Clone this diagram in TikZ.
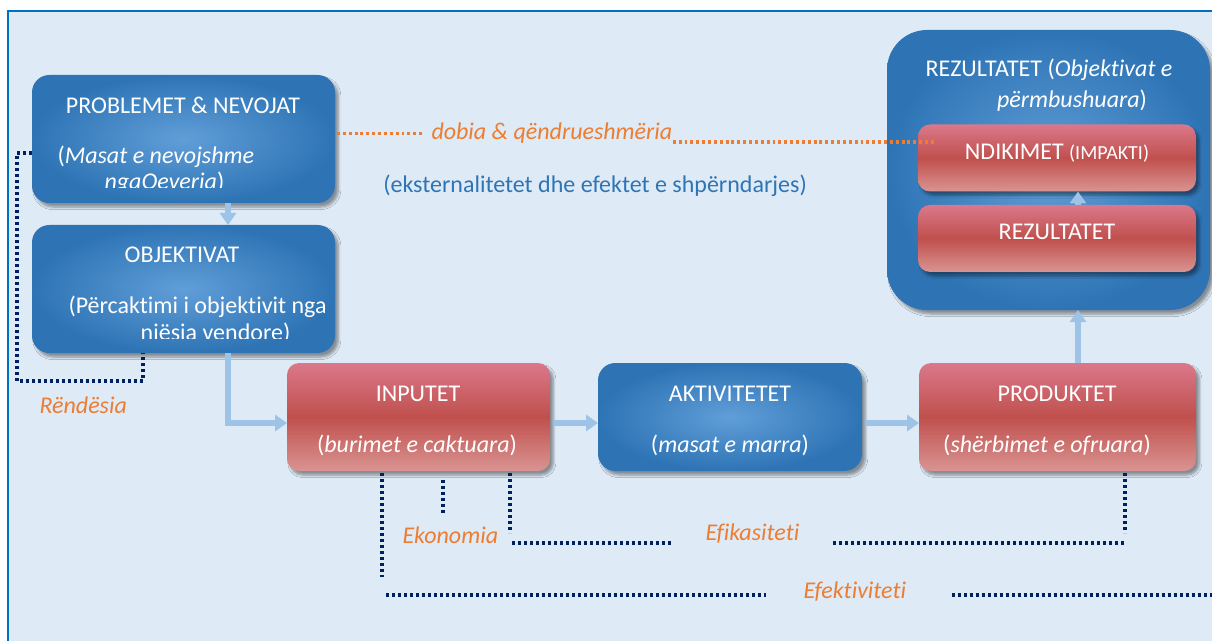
\documentclass[tikz,border=0pt]{standalone}
\usepackage{fontspec}
\setmainfont{Carlito}[Ligatures=NoCommon]
\usetikzlibrary{arrows.meta,shadows.blur}

\definecolor{bgblue}{RGB}{222,234,246}
\definecolor{frameblue}{RGB}{0,112,192}
\definecolor{boxdark}{RGB}{46,116,181}
\definecolor{boxlight}{RGB}{96,158,216}
\definecolor{redtop}{RGB}{218,120,138}
\definecolor{redmid}{RGB}{192,80,77}
\definecolor{redbot}{RGB}{217,148,146}
\definecolor{arrowblue}{RGB}{157,195,230}
\definecolor{labelorange}{RGB}{237,125,49}
\definecolor{textblue}{RGB}{46,117,182}
\definecolor{dotnavy}{RGB}{0,32,96}

\tikzset{every picture/.style={line width=0.75pt},
  boxshadow/.style={blur shadow={shadow xshift=2.5pt,shadow yshift=-3pt,shadow blur steps=6,shadow opacity=40}},
  bluebox/.style={rounded corners=13pt,inner sep=0pt,outer sep=0pt,inner color=boxlight,outer color=boxdark,boxshadow},
  redbox/.style={rounded corners=9pt,inner sep=0pt,outer sep=0pt,top color=redtop,bottom color=redbot,middle color=redmid,boxshadow},
  boxtext/.style={text=white,inner sep=0pt,font=\fontsize{18}{21}\selectfont},
  orangelabel/.style={text=labelorange,inner sep=0pt,font=\fontsize{18}{21}\selectfont\itshape},
  flowarrow/.style={draw=arrowblue,line width=4.5pt,-{Triangle[length=9pt,width=12pt]}},
  navydots/.style={draw=dotnavy,line width=2.4pt,dash pattern=on 2.2pt off 2.3pt},
  orangedots/.style={draw=labelorange,line width=2.4pt,dash pattern=on 2.2pt off 2.2pt}
}

\begin{document}
\begin{tikzpicture}[x=0.75pt,y=0.75pt,yscale=-1,xscale=1]
\useasboundingbox (0,0) rectangle (1212,641);

% Background and frame
\fill[bgblue] (8,11) rectangle (1212,641);
\draw[frameblue,line width=1.5pt] (8,641) -- (8,11) -- (1212,11);

% Boxes
\node[bluebox,minimum width=227.25pt,minimum height=96pt] (prob) at (183.5,139) {};
\node[bluebox,minimum width=227.25pt,minimum height=96pt] (obj) at (183.5,289) {};
\node[redbox,minimum width=197.25pt,minimum height=81pt] (inp) at (418.5,417) {};
\node[bluebox,minimum width=198pt,minimum height=81pt] (akt) at (730,417) {};
\node[redbox,minimum width=207.75pt,minimum height=81pt] (prod) at (1057.5,417) {};
\node[bluebox,rounded corners=30pt,minimum width=242.25pt,minimum height=210pt] (rez) at (1048.5,170) {};
\node[redbox,minimum width=208.5pt,minimum height=50.25pt] (ndik) at (1057,158) {};
\node[redbox,minimum width=208.5pt,minimum height=50.25pt] (rezin) at (1057,238.5) {};

% Text Node
\node[boxtext,anchor=base] (probT) at (183,114) {PROBLEMET \& NEVOJAT};
\node[boxtext,anchor=base west] (probA) at (57,164) {(\textit{Masat e nevojshme}};
\begin{scope}
  \clip (32,75) rectangle (335,188);
  \node[boxtext,anchor=base west] (probB) at (104,190) {\textit{ngaQeveria})};
\end{scope}
% Text Node
\node[boxtext,anchor=base] (objT) at (182,263) {OBJEKTIVAT};
\node[boxtext,anchor=base west] (objA) at (68,313) {(Përcaktimi i objektivit nga};
\begin{scope}
  \clip (32,225) rectangle (335,338);
  \node[boxtext,anchor=base west] (objB) at (140,340) {njësia vendore)};
\end{scope}
% Text Node
\node[boxtext,anchor=base] (inpT) at (418,401) {INPUTET};
\node[boxtext,anchor=base] (inpS) at (417,452) {(\textit{burimet e caktuara})};
\node[boxtext,anchor=base] (aktT) at (730,401) {AKTIVITETET};
\node[boxtext,anchor=base] (aktS) at (730,452) {(\textit{masat e marra})};
\node[boxtext,anchor=base] (prodT) at (1057,401) {PRODUKTET};
\node[boxtext,anchor=base] (prodS) at (1047,452) {(\textit{shërbimet e ofruara})};
% Text Node
\node[boxtext,anchor=base] (rezT) at (1049,77) {REZULTATET (\textit{Objektivat e}};
\node[boxtext,anchor=base] (rezT2) at (1072,108) {\textit{përmbushuara})};
\node[boxtext,anchor=base] (ndikT) at (1057,160) {NDIKIMET {\fontsize{15}{17}\selectfont(IMPAKTI)}};
\node[boxtext,anchor=base] (rezinT) at (1057,240) {REZULTATET};

% Labels
\node[orangelabel,anchor=base west] (dobia) at (431,140) {dobia \& qëndrueshmëria};
\node[text=textblue,inner sep=0pt,font=\fontsize{18}{21}\selectfont,anchor=base] (ekst) at (595,193) {(eksternalitetet dhe efektet e shpërndarjes)};
\node[orangelabel,anchor=base west] (rend) at (39,413) {Rëndësia};
\node[orangelabel,anchor=base west] (ekon) at (402,543) {Ekonomia};
\node[orangelabel,anchor=base west] (efik) at (705,540) {Efikasiteti};
\node[orangelabel,anchor=base west] (efek) at (803,598) {Efektiviteti};

% Flow arrows
\draw[flowarrow] (prob.south -| 228,0) -- (obj.north -| 228,0);
\draw[flowarrow] (obj.south -| 228,0) |- ([yshift=4.5pt]inp.west);
\draw[flowarrow,shorten <=3pt] ([yshift=4.5pt]inp.east) -- ([yshift=4.5pt]akt.west);
\draw[flowarrow,shorten <=3pt] ([yshift=4.5pt]akt.east) -- ([yshift=4.5pt]prod.west);
\draw[flowarrow] (prod.north -| 1078,0) -- (rez.south -| 1078,0);
\draw[flowarrow] (rezin.north -| 1078,0) -- (ndik.south -| 1078,0);

% Orange dotted line
\coordinate (dobEnd) at (935,142);
\draw[orangedots,shorten <=1.5pt,shorten >=5pt] (prob.east |- dobia.west) -- (dobia.west);
\draw[orangedots] (dobia.base east |- dobEnd) -- (dobEnd);

% Navy dotted lines
\draw[navydots] (prob.west |- 0,153) -| (17,381) -| (obj.south -| 143,0);
\coordinate (ekoEnd) at (443,513);
\coordinate (efiA) at (510,533);
\coordinate (efiB) at (1125,533);
\coordinate (efkA) at (382,577);
\coordinate (efkEnd) at (1212,595);
\draw[navydots,shorten <=1.5pt] (inp.south -| efkA) -- (efkA);
\draw[navydots,shorten <=6.5pt] (inp.south -| ekoEnd) -- (ekoEnd);
\draw[navydots,shorten <=1.5pt] (inp.south -| efiA) -- (efiA);
\draw[navydots,shorten >=24pt] (512,543) -- (efik.west |- 0,543);
\draw[navydots,shorten <=25pt] (efik.east |- 0,543) -- (efiB |- 0,543);
\draw[navydots,shorten <=1.5pt] (prod.south -| efiB) -- (efiB);
\draw[navydots,shorten >=28pt] (386,595) -- (efek.west |- efkEnd);
\draw[navydots,shorten <=34pt] (efek.east |- efkEnd) -- (efkEnd);

\end{tikzpicture}
\end{document}
